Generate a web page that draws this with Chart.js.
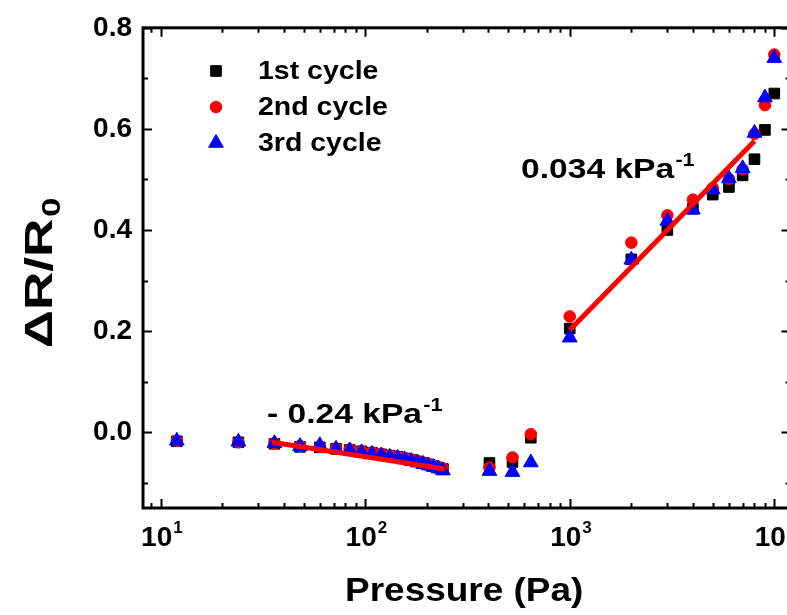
<!DOCTYPE html>
<html>
<head>
<meta charset="utf-8">
<script src="https://cdn.jsdelivr.net/npm/chart.js@4.4.1/dist/chart.umd.min.js"></script>
<style>
html, body { margin: 0; padding: 0; background: #fff; overflow: hidden; }
#wrap { width: 800px; height: 615px; }
</style>
</head>
<body>
<div id="wrap"><canvas id="myChart" width="800" height="615"></canvas></div>
<script>
// pressure steps (Pa)
const pressure = [12, 24, 36, 48, 60, 72, 84, 96, 108, 120, 132, 144, 156, 168, 180, 192, 204, 216, 228, 240,
    405, 525, 645,
    1000, 2000, 3000, 4000, 5000, 6000, 7000, 8000, 9000, 10000]

const cycle1 = [-0.018, -0.020, -0.023, -0.029, -0.030, -0.033, -0.035, -0.038, -0.041, -0.044,
    -0.047, -0.049, -0.052, -0.055, -0.058, -0.061, -0.064, -0.067, -0.070, -0.073,
    -0.061, -0.059, -0.011,
    0.205, 0.342, 0.400, 0.442, 0.470, 0.485, 0.508, 0.540, 0.598, 0.670]

const cycle2 = [-0.017, -0.020, -0.022, -0.027, -0.029, -0.032, -0.034, -0.037, -0.040, -0.043,
    -0.046, -0.048, -0.051, -0.054, -0.057, -0.060, -0.063, -0.066, -0.069, -0.072,
    -0.070, -0.050, -0.004,
    0.229, 0.375, 0.429, 0.460, 0.483, 0.501, 0.520, 0.590, 0.647, 0.747]

const cycle3 = [-0.017, -0.019, -0.022, -0.028, -0.026, -0.033, -0.036, -0.040, -0.043, -0.046,
    -0.049, -0.051, -0.054, -0.057, -0.060, -0.063, -0.066, -0.069, -0.072, -0.076,
    -0.077, -0.079, -0.060,
    0.187, 0.341, 0.418, 0.440, 0.480, 0.502, 0.522, 0.592, 0.662, 0.740]

// linear fits
const fitLowX = [35, 245]
const fitLowY = [-0.020, -0.073]
const fitHighX = [1000, 8000]
const fitHighY = [0.202, 0.576]

const yTickValues = [0, 0.2, 0.4, 0.6, 0.8]
const xTickValues = [10, 100, 1000, 10000]
const xTickExp = ['1', '2', '3', '4']
const seriesNames = ['1st cycle', '2nd cycle', '3rd cycle']

const FONT = '"Liberation Sans", Arial, sans-serif'

const toPoints = (xs, ys) => xs.map((x, i) => ({ x: x, y: ys[i] }))

// text with a raised/lowered part after it, sx = horizontal stretch
function drawWithScript(ctx, main, script, x, y, size, scriptSize, shift, sx) {
    ctx.save()
    ctx.translate(x, y)
    ctx.scale(sx || 1, 1)
    ctx.textAlign = 'left'
    ctx.font = `bold ${size}px ${FONT}`
    ctx.fillText(main, 0, 0)
    const w = ctx.measureText(main).width
    if (script) {
        ctx.font = `bold ${scriptSize}px ${FONT}`
        ctx.fillText(script, w + 1, shift)
    }
    ctx.restore()
}

function scriptWidth(ctx, main, script, size, scriptSize, sx) {
    ctx.font = `bold ${size}px ${FONT}`
    let w = ctx.measureText(main).width + 1
    ctx.font = `bold ${scriptSize}px ${FONT}`
    if (script) w += ctx.measureText(script).width
    return w * (sx || 1)
}

const framePlugin = {
    id: 'frame',
    afterDatasetsDraw(chart) {
        const { ctx, chartArea: a, scales: { x, y } } = chart
        ctx.save()
        ctx.strokeStyle = '#000'
        ctx.lineWidth = 2
        ctx.beginPath()
        // x ticks, inward, bottom and top
        for (let e = 0; e <= 4; e++) {
            for (let m = 1; m <= 9; m++) {
                const v = m * Math.pow(10, e)
                if (v < x.min || v > x.max) continue
                const px = Math.round(x.getPixelForValue(v)) + 0.5
                const len = m === 1 ? 9 : 5
                ctx.moveTo(px, a.bottom); ctx.lineTo(px, a.bottom - len)
                ctx.moveTo(px, a.top); ctx.lineTo(px, a.top + len)
            }
        }
        // y ticks, inward, left and right
        for (let k = -1; k <= 8; k++) {
            const py = Math.round(y.getPixelForValue(k / 10)) + 0.5
            const len = k % 2 === 0 ? 9 : 5
            ctx.moveTo(a.left, py); ctx.lineTo(a.left + len, py)
            ctx.moveTo(a.right, py); ctx.lineTo(a.right - len, py)
        }
        ctx.stroke()
        ctx.lineWidth = 3
        ctx.strokeRect(a.left, a.top, a.right - a.left, a.bottom - a.top)

        ctx.fillStyle = '#000'
        ctx.textBaseline = 'alphabetic'

        // x tick labels 10^n
        xTickValues.forEach((v, i) => {
            const px = x.getPixelForValue(v)
            ctx.font = `bold 28px ${FONT}`
            const w = ctx.measureText('10').width
            drawWithScript(ctx, '10', xTickExp[i], px - w / 2 - 4, a.bottom + 38, 28, 17, -13)
        })

        // x axis title
        const tw = scriptWidth(ctx, 'Pressure (Pa)', '', 33, 0, 1.12)
        drawWithScript(ctx, 'Pressure (Pa)', '', (a.left + a.right) / 2 - 2 - tw / 2, 601, 33, 0, 0, 1.12)

        // y axis title
        ctx.save()
        ctx.translate(42, 273)
        ctx.rotate(-Math.PI / 2)
        ctx.textBaseline = 'middle'
        const yw = scriptWidth(ctx, '\u0394R/R', '0', 38, 25, 1.4)
        drawWithScript(ctx, '\u0394R/R', '0', -yw / 2, 0, 38, 25, 11, 1.4)
        ctx.restore()

        // slope notes
        drawWithScript(ctx, '0.034 kPa', '-1', 521, 178, 28, 18, -12, 1.2)
        drawWithScript(ctx, '- 0.24 kPa', '-1', 267, 423, 28, 18, -12, 1.2)

        // legend
        const rows = [71, 107, 143]
        chart.data.datasets.slice(0, 3).forEach((ds, i) => {
            ctx.fillStyle = ds.backgroundColor
            ctx.strokeStyle = ds.borderColor
            ctx.lineWidth = 1
            Chart.helpers.drawPoint(ctx, { pointStyle: ds.pointStyle, radius: ds.pointRadius, rotation: 0, borderWidth: 1 }, 216, rows[i])
            ctx.fillStyle = '#000'
            ctx.textBaseline = 'middle'
            drawWithScript(ctx, seriesNames[i], '', 258, rows[i] + 1, 25, 0, 0, 1.14)
        })
        ctx.restore()
    }
}

const grafico = document.querySelector('#myChart')
new Chart(grafico, {
    type: 'scatter',
    data: {
        datasets: [
            { label: seriesNames[0], data: toPoints(pressure, cycle1), pointStyle: 'rect', pointRadius: 7.5,
              backgroundColor: '#000000', borderColor: '#000000', borderWidth: 1, order: 4 },
            { label: seriesNames[1], data: toPoints(pressure, cycle2), pointStyle: 'circle', pointRadius: 5.8,
              backgroundColor: '#ff0000', borderColor: '#ff0000', borderWidth: 1, order: 3 },
            { label: seriesNames[2], data: toPoints(pressure, cycle3), pointStyle: 'triangle', pointRadius: 8.5,
              backgroundColor: '#0000ff', borderColor: '#0000ff', borderWidth: 1, order: 2 },
            { label: 'fit low', data: toPoints(fitLowX, fitLowY), showLine: true, pointRadius: 0,
              borderColor: '#ff0000', borderWidth: 5, order: 1 },
            { label: 'fit high', data: toPoints(fitHighX, fitHighY), showLine: true, pointRadius: 0,
              borderColor: '#ff0000', borderWidth: 5, order: 1 }
        ]
    },
    options: {
        responsive: false,
        animation: false,
        layout: { padding: { top: 25, right: 9, bottom: 0, left: 0 } },
        plugins: { legend: { display: false }, tooltip: { enabled: false } },
        scales: {
            x: {
                type: 'logarithmic',
                min: 8.2,
                max: 12000,
                grid: { display: false },
                border: { display: false },
                ticks: { display: false },
                afterFit(scale) { scale.height = 107 }
            },
            y: {
                min: -0.15,
                max: 0.8,
                grid: { display: false, drawTicks: false },
                border: { display: false },
                afterBuildTicks(scale) { scale.ticks = yTickValues.map(v => ({ value: v })) },
                ticks: {
                    color: '#000', padding: 11,
                    font: { family: FONT, size: 28, weight: 'bold' },
                    callback: (v) => Number(v).toFixed(1)
                },
                afterFit(scale) { scale.width = 143 }
            }
        }
    },
    plugins: [framePlugin]
})
</script>
</body>
</html>
